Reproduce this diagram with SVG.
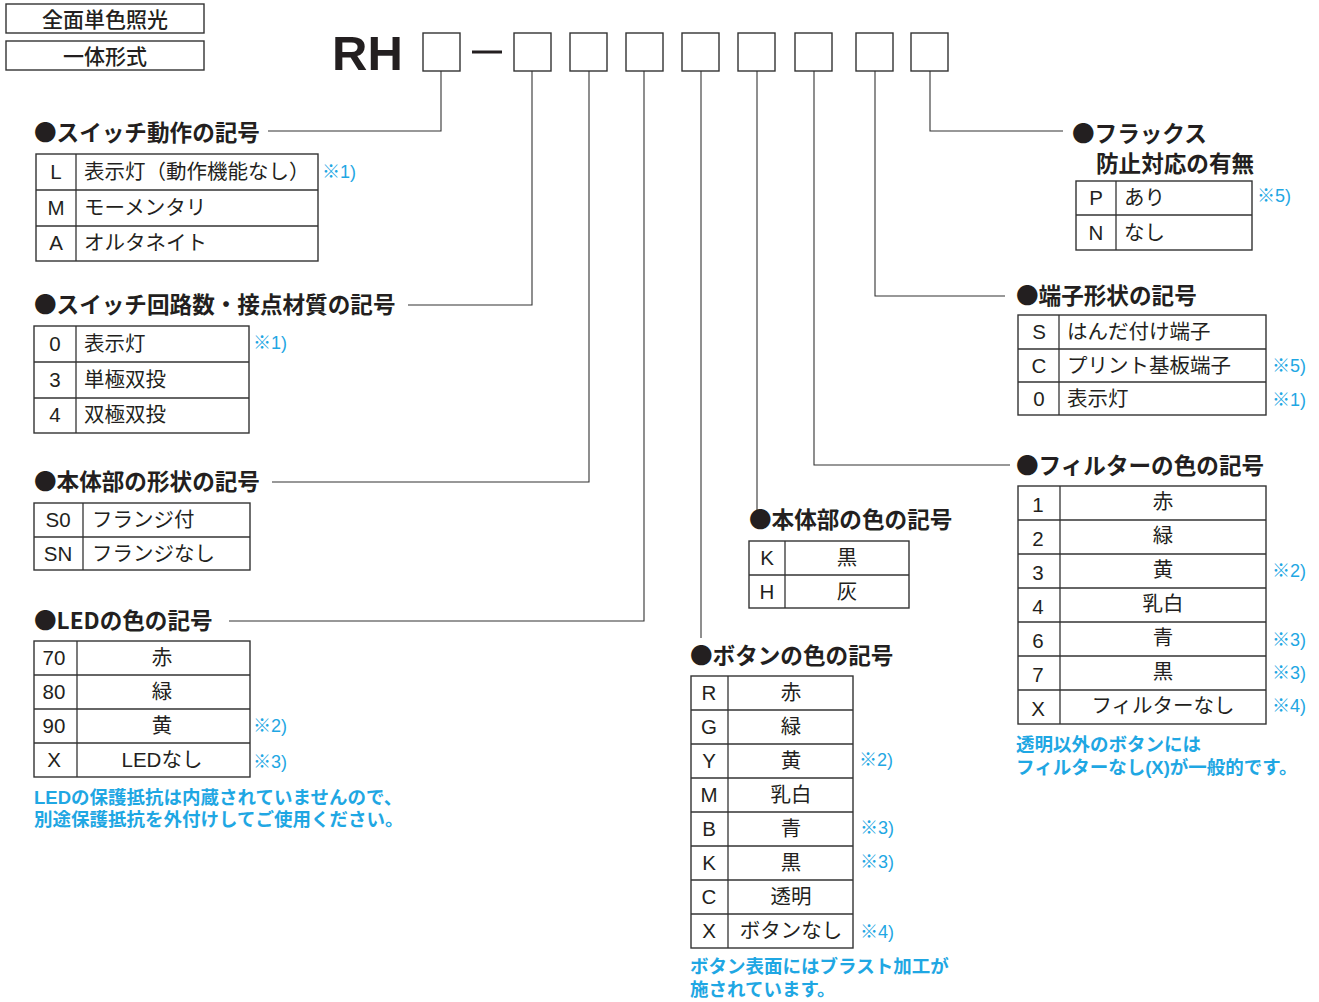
<svg xmlns="http://www.w3.org/2000/svg" width="1319" height="1002" viewBox="0 0 1319 1002">
<style>
text{font-family:"Liberation Sans","Noto Sans CJK JP",sans-serif;fill:#231f20}
.hd{font-size:21px;font-weight:500;text-anchor:middle}
.rh{font-size:49px;font-weight:bold}
.ti{font-family:"Noto Sans CJK JP",sans-serif;font-size:22.6px;font-weight:bold}
.t{font-size:20.5px}
.c{font-size:20.5px;text-anchor:middle}
.n{font-size:18px;fill:#1fa7e3}
.b{font-size:18.5px;font-weight:bold;fill:#1fa7e3}
.box{fill:none;stroke:#333;stroke-width:1.4}
.tb{fill:#fff;stroke:#333;stroke-width:1.4}
.ln{stroke:#333;stroke-width:1.3}
.cn{fill:none;stroke:#333;stroke-width:1.1}
</style>
<rect width="1319" height="1002" fill="#fff"/>
<g id="header">
<rect class="box" x="6" y="4" width="198" height="29"/>
<text class="hd" x="105" y="27">全面単色照光</text>
<rect class="box" x="6" y="41" width="198" height="29"/>
<text class="hd" x="105" y="64">一体形式</text>
</g>
<g id="model">
<text class="rh" x="332" y="70">RH</text>
<rect class="box" x="423" y="33" width="37" height="38"/>
<line x1="472" y1="52" x2="502" y2="52" stroke="#231f20" stroke-width="3"/>
<rect class="box" x="514" y="33" width="37" height="38"/>
<rect class="box" x="570" y="33" width="37" height="38"/>
<rect class="box" x="626" y="33" width="37" height="38"/>
<rect class="box" x="682" y="33" width="37" height="38"/>
<rect class="box" x="738" y="33" width="37" height="38"/>
<rect class="box" x="795" y="33" width="37" height="38"/>
<rect class="box" x="856" y="33" width="37" height="38"/>
<rect class="box" x="911" y="33" width="37" height="38"/>
</g>
<g id="connectors">
<polyline class="cn" points="441,71 441,131 268,131"/>
<polyline class="cn" points="532,71 532,305 408,305"/>
<polyline class="cn" points="589,71 589,482 272,482"/>
<polyline class="cn" points="644,71 644,621 229,621"/>
<polyline class="cn" points="701,71 701,638"/>
<polyline class="cn" points="757,71 757,510"/>
<polyline class="cn" points="814,71 814,465 1010,465"/>
<polyline class="cn" points="875,71 875,296 1005,296"/>
<polyline class="cn" points="930,71 930,131 1063,131"/>
</g>
<g id="switch-action">
<text class="ti" x="34" y="141">●スイッチ動作の記号</text>
<rect class="tb" x="36" y="154" width="282" height="107"/>
<line class="ln" x1="36" y1="190" x2="318" y2="190"/>
<line class="ln" x1="36" y1="226" x2="318" y2="226"/>
<line class="ln" x1="76" y1="154" x2="76" y2="261"/>
<text class="c" x="56" y="179">L</text><text class="t" x="84" y="179">表示灯（動作機能なし）</text>
<text class="c" x="56" y="215">M</text><text class="t" x="84" y="215">モーメンタリ</text>
<text class="c" x="56" y="250">A</text><text class="t" x="84" y="250">オルタネイト</text>
<text class="n" x="322" y="178">※1)</text>
</g>
<g id="switch-circuit">
<text class="ti" x="34" y="313">●スイッチ回路数・接点材質の記号</text>
<rect class="tb" x="34" y="326" width="215" height="107"/>
<line class="ln" x1="34" y1="362" x2="249" y2="362"/>
<line class="ln" x1="34" y1="398" x2="249" y2="398"/>
<line class="ln" x1="76" y1="326" x2="76" y2="433"/>
<text class="c" x="55" y="351">0</text><text class="t" x="84" y="351">表示灯</text>
<text class="c" x="55" y="387">3</text><text class="t" x="84" y="387">単極双投</text>
<text class="c" x="55" y="422">4</text><text class="t" x="84" y="422">双極双投</text>
<text class="n" x="253" y="349">※1)</text>
</g>
<g id="body-shape">
<text class="ti" x="34" y="490">●本体部の形状の記号</text>
<rect class="tb" x="34" y="503" width="216" height="67"/>
<line class="ln" x1="34" y1="537" x2="250" y2="537"/>
<line class="ln" x1="83" y1="503" x2="83" y2="570"/>
<text class="c" x="58" y="527">S0</text><text class="t" x="92" y="527">フランジ付</text>
<text class="c" x="58" y="561">SN</text><text class="t" x="92" y="561">フランジなし</text>
</g>
<g id="led-color">
<text class="ti" x="34" y="629">●LEDの色の記号</text>
<rect class="tb" x="34" y="641" width="216" height="136"/>
<line class="ln" x1="34" y1="675" x2="250" y2="675"/>
<line class="ln" x1="34" y1="709" x2="250" y2="709"/>
<line class="ln" x1="34" y1="743" x2="250" y2="743"/>
<line class="ln" x1="77" y1="641" x2="77" y2="777"/>
<text class="c" x="54" y="665">70</text><text class="c" x="162" y="665">赤</text>
<text class="c" x="54" y="699">80</text><text class="c" x="162" y="699">緑</text>
<text class="c" x="54" y="733">90</text><text class="c" x="162" y="733">黄</text>
<text class="c" x="54" y="767">X</text><text class="c" x="162" y="767">LEDなし</text>
<text class="n" x="253" y="732">※2)</text>
<text class="n" x="253" y="768">※3)</text>
<text class="b" x="34" y="804">LEDの保護抵抗は内蔵されていませんので、</text>
<text class="b" x="34" y="826">別途保護抵抗を外付けしてご使用ください。</text>
</g>
<g id="body-color">
<text class="ti" x="749" y="528">●本体部の色の記号</text>
<rect class="tb" x="749" y="541" width="160" height="67"/>
<line class="ln" x1="749" y1="575" x2="909" y2="575"/>
<line class="ln" x1="785" y1="541" x2="785" y2="608"/>
<text class="c" x="767" y="565">K</text><text class="c" x="847" y="565">黒</text>
<text class="c" x="767" y="599">H</text><text class="c" x="847" y="599">灰</text>
</g>
<g id="button-color">
<text class="ti" x="690" y="664">●ボタンの色の記号</text>
<rect class="tb" x="691" y="676" width="162" height="272"/>
<line class="ln" x1="691" y1="710" x2="853" y2="710"/>
<line class="ln" x1="691" y1="744" x2="853" y2="744"/>
<line class="ln" x1="691" y1="778" x2="853" y2="778"/>
<line class="ln" x1="691" y1="812" x2="853" y2="812"/>
<line class="ln" x1="691" y1="846" x2="853" y2="846"/>
<line class="ln" x1="691" y1="880" x2="853" y2="880"/>
<line class="ln" x1="691" y1="914" x2="853" y2="914"/>
<line class="ln" x1="728" y1="676" x2="728" y2="948"/>
<text class="c" x="709" y="700">R</text><text class="c" x="791" y="700">赤</text>
<text class="c" x="709" y="734">G</text><text class="c" x="791" y="734">緑</text>
<text class="c" x="709" y="768">Y</text><text class="c" x="791" y="768">黄</text>
<text class="c" x="709" y="802">M</text><text class="c" x="791" y="802">乳白</text>
<text class="c" x="709" y="836">B</text><text class="c" x="791" y="836">青</text>
<text class="c" x="709" y="870">K</text><text class="c" x="791" y="870">黒</text>
<text class="c" x="709" y="904">C</text><text class="c" x="791" y="904">透明</text>
<text class="c" x="709" y="938">X</text><text class="c" x="791" y="938">ボタンなし</text>
<text class="n" x="859" y="766">※2)</text>
<text class="n" x="860" y="834">※3)</text>
<text class="n" x="860" y="868">※3)</text>
<text class="n" x="860" y="938">※4)</text>
<text class="b" x="690" y="973">ボタン表面にはブラスト加工が</text>
<text class="b" x="690" y="996">施されています。</text>
</g>
<g id="flux">
<text class="ti" x="1072" y="142">●フラックス</text>
<text class="ti" x="1096" y="172">防止対応の有無</text>
<rect class="tb" x="1076" y="181" width="176" height="69"/>
<line class="ln" x1="1076" y1="215" x2="1252" y2="215"/>
<line class="ln" x1="1116" y1="181" x2="1116" y2="250"/>
<text class="c" x="1096" y="205">P</text><text class="t" x="1124" y="205">あり</text>
<text class="c" x="1096" y="240">N</text><text class="t" x="1124" y="240">なし</text>
<text class="n" x="1257" y="202">※5)</text>
</g>
<g id="terminal">
<text class="ti" x="1016" y="304">●端子形状の記号</text>
<rect class="tb" x="1018" y="315" width="248" height="100"/>
<line class="ln" x1="1018" y1="349" x2="1266" y2="349"/>
<line class="ln" x1="1018" y1="382" x2="1266" y2="382"/>
<line class="ln" x1="1059" y1="315" x2="1059" y2="415"/>
<text class="c" x="1039" y="339">S</text><text class="t" x="1067" y="339">はんだ付け端子</text>
<text class="c" x="1039" y="373">C</text><text class="t" x="1067" y="373">プリント基板端子</text>
<text class="c" x="1039" y="406">0</text><text class="t" x="1067" y="406">表示灯</text>
<text class="n" x="1272" y="372">※5)</text>
<text class="n" x="1272" y="406">※1)</text>
</g>
<g id="filter-color">
<text class="ti" x="1016" y="474">●フィルターの色の記号</text>
<rect class="tb" x="1018" y="486" width="248" height="238"/>
<line class="ln" x1="1018" y1="520" x2="1266" y2="520"/>
<line class="ln" x1="1018" y1="554" x2="1266" y2="554"/>
<line class="ln" x1="1018" y1="588" x2="1266" y2="588"/>
<line class="ln" x1="1018" y1="622" x2="1266" y2="622"/>
<line class="ln" x1="1018" y1="656" x2="1266" y2="656"/>
<line class="ln" x1="1018" y1="690" x2="1266" y2="690"/>
<line class="ln" x1="1060" y1="486" x2="1060" y2="724"/>
<text class="c" x="1038" y="512">1</text><text class="c" x="1163" y="509">赤</text>
<text class="c" x="1038" y="546">2</text><text class="c" x="1163" y="543">緑</text>
<text class="c" x="1038" y="580">3</text><text class="c" x="1163" y="577">黄</text>
<text class="c" x="1038" y="614">4</text><text class="c" x="1163" y="611">乳白</text>
<text class="c" x="1038" y="648">6</text><text class="c" x="1163" y="645">青</text>
<text class="c" x="1038" y="682">7</text><text class="c" x="1163" y="679">黒</text>
<text class="c" x="1038" y="716">X</text><text class="c" x="1163" y="713">フィルターなし</text>
<text class="n" x="1272" y="577">※2)</text>
<text class="n" x="1272" y="646">※3)</text>
<text class="n" x="1272" y="679">※3)</text>
<text class="n" x="1272" y="712">※4)</text>
<text class="b" x="1016" y="751">透明以外のボタンには</text>
<text class="b" x="1016" y="774">フィルターなし(X)が一般的です。</text>
</g>
</svg>
